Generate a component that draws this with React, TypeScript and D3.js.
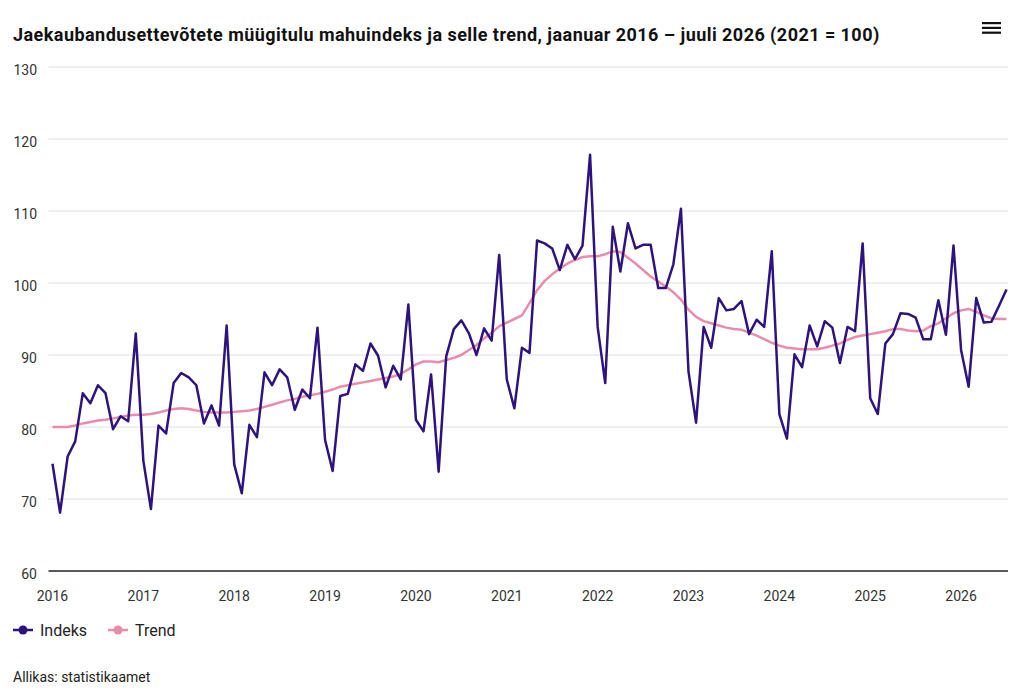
import { line, scaleLinear, range } from "d3";

const START_YEAR = 2016;

// kuu väärtused jaanuar 2016 ... juuli 2026
const indeks = [
  74.9, 68.1, 75.9, 78.0, 84.7, 83.3, 85.8, 84.7, 79.7, 81.5, 80.8, 93.0,
  75.3, 68.6, 80.2, 79.1, 86.1, 87.5, 86.9, 85.8, 80.5, 83.0, 80.2, 94.1,
  74.8, 70.8, 80.3, 78.6, 87.6, 85.8, 88.0, 86.9, 82.4, 85.2, 84.0, 93.8,
  78.2, 73.9, 84.3, 84.6, 88.7, 87.8, 91.6, 89.9, 85.5, 88.5, 86.6, 97.0,
  81.0, 79.4, 87.3, 73.8, 89.8, 93.6, 94.8, 93.0, 90.0, 93.7, 92.0, 103.9,
  86.6, 82.6, 91.0, 90.3, 105.9, 105.5, 104.8, 101.8, 105.3, 103.3, 105.2, 117.8,
  93.9, 86.1, 107.8, 101.6, 108.3, 104.8, 105.3, 105.3, 99.3, 99.3, 102.6, 110.3,
  87.7, 80.6, 93.9, 91.0, 97.9, 96.2, 96.4, 97.5, 92.9, 94.9, 93.9, 104.4,
  81.8, 78.4, 90.1, 88.3, 94.1, 91.2, 94.7, 93.8, 88.9, 93.9, 93.3, 105.5,
  84.0, 81.8, 91.6, 92.9, 95.8, 95.7, 95.2, 92.2, 92.2, 97.6, 92.8, 105.2,
  90.7, 85.6, 97.9, 94.5, 94.6, 96.8, 99.1,
];

const trend = [
  80.0, 80.0, 80.0, 80.2, 80.5, 80.7, 80.9, 81.0, 81.2, 81.4, 81.6, 81.7,
  81.7, 81.8, 82.0, 82.3, 82.5, 82.6, 82.5, 82.3, 82.1, 82.0, 82.0, 82.0,
  82.1, 82.2, 82.3, 82.5, 82.8, 83.1, 83.4, 83.7, 83.9, 84.2, 84.4, 84.6,
  84.9, 85.2, 85.6, 85.8, 86.0, 86.2, 86.4, 86.6, 86.8, 87.0, 87.4, 88.0,
  88.7, 89.1, 89.1, 89.0, 89.3, 89.6, 90.0, 90.7, 91.4, 92.3, 93.1, 94.0,
  94.5, 95.0, 95.5, 97.2, 99.0, 100.3, 101.2, 102.0, 102.7, 103.2, 103.6, 103.7,
  103.7, 104.0, 104.4, 104.3, 103.5, 102.7, 101.8, 100.9, 100.2, 99.5, 98.7, 97.7,
  96.3, 95.3, 94.7, 94.4, 94.1, 93.8, 93.6, 93.5, 93.1, 92.7, 92.2, 91.7,
  91.3, 91.0, 90.9, 90.8, 90.8, 90.8, 91.0, 91.3, 91.6, 92.1, 92.5, 92.7,
  92.9, 93.1, 93.3, 93.6, 93.6, 93.4, 93.3, 93.4, 94.0, 94.4, 95.1, 95.8,
  96.2, 96.4, 96.0, 95.5, 95.1, 95.0, 95.0,
];

const yTicks = [60, 70, 80, 90, 100, 110, 120, 130];
const yearLabels = range(START_YEAR, 2027);

const INDEKS_COLOR = "#2e1380";
const TREND_COLOR = "#ea8ca9";
const FONT = "Roboto, 'Noto Sans', sans-serif";

export default function App() {
  const width = 1024;
  const height = 700;

  const x = scaleLinear().domain([0, 126]).range([52.5, 1006.5]);
  const y = scaleLinear().domain([60, 130]).range([571, 67]);

  const path = line<number>()
    .x((_, i) => x(i))
    .y((d) => y(d));

  return (
    <svg
      width={width}
      height={height}
      style={{ position: "absolute", left: 0, top: 0, background: "#fff" }}
      fontFamily={FONT}
    >
      <text x={13} y={41} fontSize={18} letterSpacing={0.45} fontWeight={700} fill="#111">
        Jaekaubandusettevõtete müügitulu mahuindeks ja selle trend, jaanuar 2016 – juuli 2026 (2021 = 100)
      </text>

      {/* menüü ikoon */}
      <g fill="#111">
        <rect x={982} y={22} width={19} height={2.2} />
        <rect x={982} y={26.8} width={19} height={2.2} />
        <rect x={982} y={31.6} width={19} height={2.2} />
      </g>

      {yTicks.map((t) => (
        <g key={t}>
          <line
            x1={48.5}
            x2={1008}
            y1={y(t)}
            y2={y(t)}
            stroke={t === 60 ? "#222" : "#e0e0e0"}
            strokeWidth={t === 60 ? 1.5 : 1}
          />
          <text
            x={37}
            y={y(t) + 4}
            textAnchor="end"
            dominantBaseline="middle"
            fontSize={14}
            fill="#333"
          >
            {t}
          </text>
        </g>
      ))}

      {yearLabels.map((yr, i) => (
        <text
          key={yr}
          x={x(i * 12)}
          y={601}
          textAnchor="middle"
          fontSize={14}
          fill="#333"
        >
          {yr}
        </text>
      ))}

      <path d={path(trend) ?? ""} fill="none" stroke={TREND_COLOR} strokeWidth={2.5} strokeLinejoin="round" />
      <path d={path(indeks) ?? ""} fill="none" stroke={INDEKS_COLOR} strokeWidth={2.5} strokeLinejoin="round" />

      {/* legend */}
      <g fontSize={16} fill="#222">
        <line x1={13} x2={33} y1={630} y2={630} stroke={INDEKS_COLOR} strokeWidth={2.5} />
        <circle cx={23} cy={630} r={4.5} fill={INDEKS_COLOR} />
        <text x={40} y={630} dominantBaseline="central">Indeks</text>
        <line x1={108} x2={128} y1={630} y2={630} stroke={TREND_COLOR} strokeWidth={2.5} />
        <circle cx={118} cy={630} r={4.5} fill={TREND_COLOR} />
        <text x={135} y={630} dominantBaseline="central">Trend</text>
      </g>

      <text x={13} y={682} fontSize={14} fill="#222">
        Allikas: statistikaamet
      </text>
    </svg>
  );
}
